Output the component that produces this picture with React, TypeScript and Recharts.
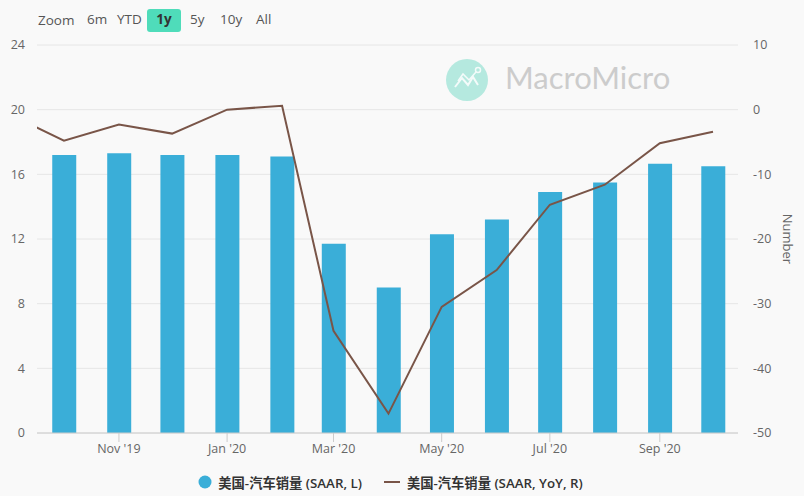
import { Bar, CartesianGrid, ComposedChart, Legend, Line, XAxis, YAxis } from 'recharts'

// days since 1 Oct 2019, the first value is the month left of the visible window
const dayOffset = [-30, 0, 31, 61, 92, 123, 152, 183, 213, 244, 274, 305, 336, 366]
const saar = [null, 17.2, 17.3, 17.2, 17.2, 17.1, 11.7, 9.0, 12.3, 13.2, 14.9, 15.5, 16.65, 16.5]
const saarYoy = [-0.8, -4.8, -2.3, -3.7, 0, 0.6, -34.2, -47, -30.5, -24.8, -14.7, -11.6, -5.2, -3.4]

const monthTicks = [31, 92, 152, 213, 274, 336]
const monthLabels: Record<number, string> = {
  31: "Nov '19",
  92: "Jan '20",
  152: "Mar '20",
  213: "May '20",
  274: "Jul '20",
  336: "Sep '20",
}
const leftTicks = [0, 4, 8, 12, 16, 20, 24]
const rightTicks = [-50, -40, -30, -20, -10, 0, 10]
const rangeButtons = ['6m', 'YTD', '1y', '5y', '10y', 'All']

const BAR_NAME = '美国-汽车销量 (SAAR, L)'
const LINE_NAME = '美国-汽车销量 (SAAR, YoY, R)'
const BAR_COLOR = '#3aaed8'
const LINE_COLOR = '#795548'
const FONT = '"Open Sans", "Noto Sans CJK SC", sans-serif'

const chartData = dayOffset.map((d, i) => ({ d, saar: saar[i], yoy: saarYoy[i] }))

function RangeBar() {
  const xs = [87, 117, 147, 190, 220, 256]
  return (
    <div style={{ position: 'absolute', left: 0, top: 0, width: 300, height: 40, fontSize: 13.5, color: '#555' }}>
      <span style={{ position: 'absolute', left: 38, top: 11 }}>Zoom</span>
      {rangeButtons.map((b, i) => (
        <span
          key={b}
          style={
            b === '1y'
              ? {
                  position: 'absolute',
                  left: 147,
                  top: 9,
                  width: 34,
                  height: 23,
                  lineHeight: '21px',
                  textAlign: 'center',
                  background: '#4fdcba',
                  borderRadius: 3,
                  fontWeight: 700,
                  color: '#333',
                }
              : { position: 'absolute', left: xs[i], top: 10 }
          }
        >
          {b}
        </span>
      ))}
    </div>
  )
}

function Watermark() {
  return (
    <div style={{ position: 'absolute', left: 445, top: 58, width: 240, height: 44 }}>
      <svg width={44} height={44} style={{ position: 'absolute', left: 0, top: 0 }}>
        <circle cx={22} cy={22} r={21} fill="#b5e9df" />
        <polyline points="10,29 17,20 23,27 28,19 33,27" fill="none" stroke="#f4fbfa" strokeWidth={2} />
        <polyline points="13,23 18,16 24,22 31,14" fill="none" stroke="#f4fbfa" strokeWidth={1.5} />
        <circle cx={33} cy={12} r={2.5} fill="none" stroke="#f4fbfa" strokeWidth={1.5} />
      </svg>
      <span style={{ position: 'absolute', left: 60, top: 0, fontSize: 31, color: '#cccccc', fontFamily: 'Lato, sans-serif' }}>
        MacroMicro
      </span>
    </div>
  )
}

function ChartLegend() {
  return (
    <div style={{ display: 'flex', justifyContent: 'center', alignItems: 'center', fontSize: 13.3, fontWeight: 600, color: '#333', height: 24, paddingRight: 23 }}>
      <svg width={14} height={14} style={{ marginRight: 6 }}>
        <circle cx={7} cy={7} r={6.5} fill={BAR_COLOR} />
      </svg>
      <span style={{ marginRight: 22 }}>{BAR_NAME}</span>
      <svg width={16} height={14} style={{ marginRight: 7 }}>
        <line x1={0} x2={16} y1={7} y2={7} stroke={LINE_COLOR} strokeWidth={2} />
      </svg>
      <span>{LINE_NAME}</span>
    </div>
  )
}

export default function App() {
  const tickStyle = { fill: '#666', fontSize: 12.5, fontFamily: FONT }
  return (
    <div style={{ position: 'absolute', left: 0, top: 0, width: 804, height: 496, background: '#f9f9f9', fontFamily: FONT, overflow: 'hidden' }}>
      <Watermark />
      <RangeBar />
      <ComposedChart
        width={804}
        height={496}
        data={chartData}
        margin={{ top: 45, right: 0, bottom: 2, left: 0 }}
        style={{ position: 'absolute', left: 0, top: 0 }}
      >
        <CartesianGrid vertical={false} stroke="#e6e6e6" yAxisId="left" />
        <XAxis
          dataKey="d"
          type="number"
          domain={[-15.2, 380.1]}
          allowDataOverflow
          ticks={monthTicks}
          tickFormatter={(v: number) => monthLabels[v]}
          tick={tickStyle}
          tickLine={{ stroke: '#ccc' }}
          axisLine={{ stroke: '#ccc' }}
          tickSize={9}
          tickMargin={2}
          height={37}
        />
        <YAxis
          yAxisId="left"
          width={37}
          domain={[0, 24]}
          ticks={leftTicks}
          interval={0}
          tick={tickStyle}
          tickLine={false}
          axisLine={false}
          tickMargin={6}
        />
        <YAxis
          yAxisId="right"
          orientation="right"
          width={66}
          domain={[-50, 10]}
          ticks={rightTicks}
          interval={0}
          tick={{ ...tickStyle, textAnchor: 'start' }}
          tickLine={false}
          axisLine={false}
          tickMargin={9}
          label={{ value: 'Number', angle: 90, position: 'insideRight', offset: 16, style: { fill: '#666', fontSize: 13, fontFamily: FONT, textAnchor: 'middle' } }}
        />
        <Bar yAxisId="left" dataKey="saar" name={BAR_NAME} fill={BAR_COLOR} barSize={24} isAnimationActive={false} />
        <Line
          yAxisId="right"
          dataKey="yoy"
          name={LINE_NAME}
          stroke={LINE_COLOR}
          strokeWidth={2}
          dot={false}
          activeDot={false}
          isAnimationActive={false}
        />
        <Legend verticalAlign="bottom" height={24} content={() => <ChartLegend />} />
      </ComposedChart>
    </div>
  )
}
